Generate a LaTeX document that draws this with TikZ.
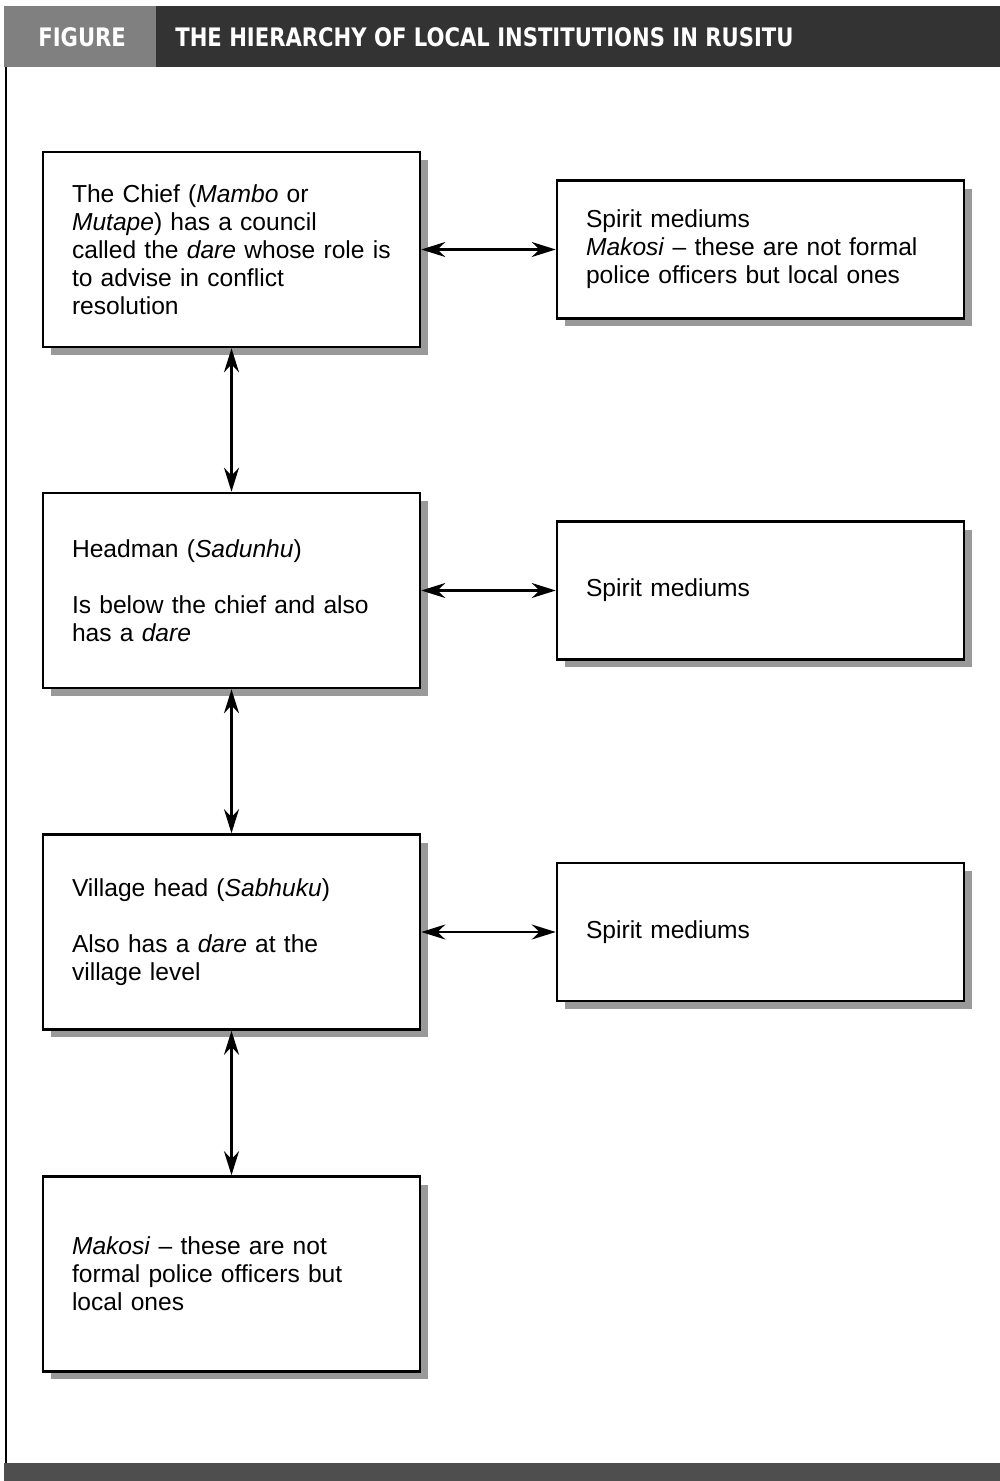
\documentclass[tikz,border=0pt]{standalone}
\usepackage{fontspec}
\setmainfont{Liberation Sans}
\newfontfamily\headfont{DejaVu Sans}[FakeStretch=0.83]
\usepackage{tikz}
\usetikzlibrary{arrows.meta,positioning,shadows}
\definecolor{shadowgray}{RGB}{153,153,153}
\definecolor{headdark}{RGB}{51,51,51}
\definecolor{headlight}{RGB}{128,128,128}
\definecolor{footdark}{RGB}{78,78,78}

\begin{document}
\begin{tikzpicture}[
        x=0.02cm, y=-0.02cm,
        font=\fontsize{14}{15.9}\selectfont,
        lbox/.style={rectangle, draw, line width=1.5pt, fill=white, minimum width=7.54cm, minimum height=3.9cm, text width=6.38cm, inner xsep=0.58cm, align=left, drop shadow={shadow xshift=0.16cm, shadow yshift=-0.16cm, fill=shadowgray, opacity=1}},
        rbox/.style={lbox, minimum width=8.14cm, minimum height=2.76cm, text width=6.98cm},
        link/.style={{Stealth[length=0.48cm,width=0.3cm]}-{Stealth[length=0.48cm,width=0.3cm]}, line width=1.3pt},
        head/.style={text=white, font=\headfont\bfseries\fontsize{14.5}{16}\selectfont, anchor=west, inner sep=0pt}
    ]
        \useasboundingbox (0,0) rectangle (1000,1481);

        % frame
        \fill[headlight] (4,6) rectangle (156,67);
        \fill[headdark] (156,6) rectangle (1000,67);
        \fill[footdark] (4,1463) rectangle (1000,1481);
        \draw[line width=1.2pt] (6,67) -- (6,1463);
        \node[head] (figlab) at (38,37) {FIGURE};
        \node[head] (title) at (175,37) {THE HIERARCHY OF LOCAL INSTITUTIONS IN RUSITU};

        % left column
        \node[lbox] (chief) at (231.5,249.5) {The Chief (\textit{Mambo} or\\ \textit{Mutape}) has a council\\ called the \textit{dare} whose role is\\ to advise in conflict\\ resolution};
        \node[lbox] (headman) at (231.5,590.5) {Headman (\textit{Sadunhu})\\[15.9pt] Is below the chief and also\\ has a \textit{dare}};
        \node[lbox] (village) at (231.5,932) {Village head (\textit{Sabhuku})\\[15.9pt] Also has a \textit{dare} at the\\ village level};
        \node[lbox] (makosi) at (231.5,1274) {\textit{Makosi} -- these are not\\ formal police officers but\\ local ones};

        % right column
        \node[rbox] (spirita) at (760.5,249.5) {Spirit mediums\\ \textit{Makosi} -- these are not formal\\ police officers but local ones};
        \node[rbox] (spiritb) at (760.5,590.5) {Spirit mediums};
        \node[rbox] (spiritc) at (760.5,932) {Spirit mediums};

        \draw[link] (chief.east) -- (spirita.west);
        \draw[link] (headman.east) -- (spiritb.west);
        \draw[link] (village.east) -- (spiritc.west);
        \draw[link] (chief.south) -- (headman.north);
        \draw[link] (headman.south) -- (village.north);
        \draw[link] (village.south) -- (makosi.north);
    \end{tikzpicture}
\end{document}
